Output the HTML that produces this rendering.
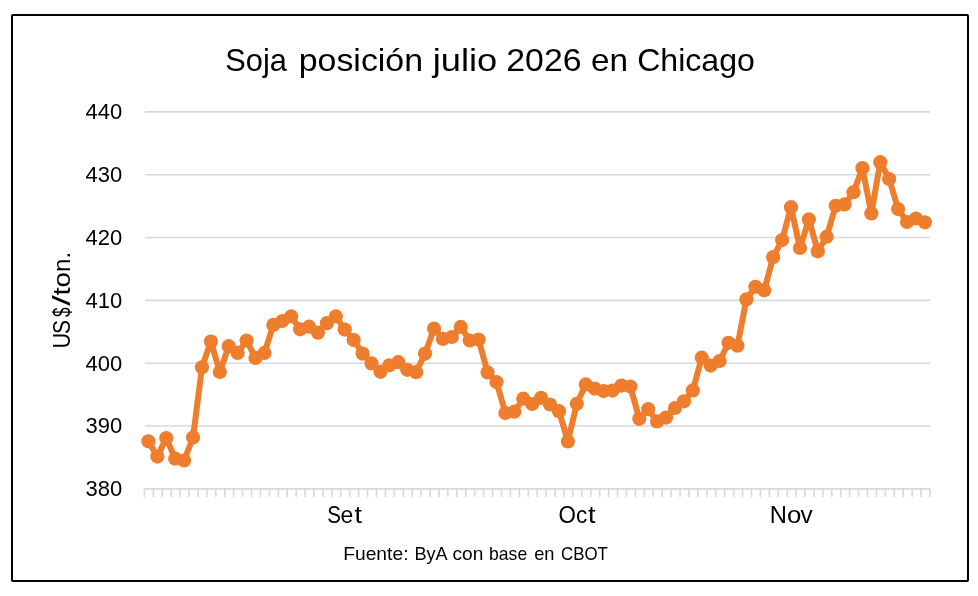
<!DOCTYPE html><html><head><meta charset="utf-8"><style>html,body{margin:0;padding:0;background:#fff;}svg{display:block;will-change:transform;}text{font-family:"Liberation Sans",sans-serif;fill:#000;}</style></head><body>
<svg width="978" height="596" viewBox="0 0 978 596">
<rect x="0" y="0" width="978" height="596" fill="#fff"/>
<rect x="12" y="15" width="956" height="566" fill="#fff" stroke="#000" stroke-width="2" rx="1"/>
<path d="M145 111.90H930M145 174.73H930M145 237.56H930M145 300.39H930M145 363.22H930M145 426.05H930" stroke="#d9d9d9" stroke-width="1.6" fill="none"/>
<path d="M144.4 488.88H930M144.40 488.88V496.88M153.33 488.88V496.88M162.25 488.88V496.88M171.18 488.88V496.88M180.11 488.88V496.88M189.04 488.88V496.88M197.96 488.88V496.88M206.89 488.88V496.88M215.82 488.88V496.88M224.75 488.88V496.88M233.67 488.88V496.88M242.60 488.88V496.88M251.53 488.88V496.88M260.45 488.88V496.88M269.38 488.88V496.88M278.31 488.88V496.88M287.24 488.88V496.88M296.16 488.88V496.88M305.09 488.88V496.88M314.02 488.88V496.88M322.95 488.88V496.88M331.87 488.88V496.88M340.80 488.88V496.88M349.73 488.88V496.88M358.65 488.88V496.88M367.58 488.88V496.88M376.51 488.88V496.88M385.44 488.88V496.88M394.36 488.88V496.88M403.29 488.88V496.88M412.22 488.88V496.88M421.15 488.88V496.88M430.07 488.88V496.88M439.00 488.88V496.88M447.93 488.88V496.88M456.85 488.88V496.88M465.78 488.88V496.88M474.71 488.88V496.88M483.64 488.88V496.88M492.56 488.88V496.88M501.49 488.88V496.88M510.42 488.88V496.88M519.35 488.88V496.88M528.27 488.88V496.88M537.20 488.88V496.88M546.13 488.88V496.88M555.05 488.88V496.88M563.98 488.88V496.88M572.91 488.88V496.88M581.84 488.88V496.88M590.76 488.88V496.88M599.69 488.88V496.88M608.62 488.88V496.88M617.55 488.88V496.88M626.47 488.88V496.88M635.40 488.88V496.88M644.33 488.88V496.88M653.25 488.88V496.88M662.18 488.88V496.88M671.11 488.88V496.88M680.04 488.88V496.88M688.96 488.88V496.88M697.89 488.88V496.88M706.82 488.88V496.88M715.75 488.88V496.88M724.67 488.88V496.88M733.60 488.88V496.88M742.53 488.88V496.88M751.45 488.88V496.88M760.38 488.88V496.88M769.31 488.88V496.88M778.24 488.88V496.88M787.16 488.88V496.88M796.09 488.88V496.88M805.02 488.88V496.88M813.95 488.88V496.88M822.87 488.88V496.88M831.80 488.88V496.88M840.73 488.88V496.88M849.65 488.88V496.88M858.58 488.88V496.88M867.51 488.88V496.88M876.44 488.88V496.88M885.36 488.88V496.88M894.29 488.88V496.88M903.22 488.88V496.88M912.15 488.88V496.88M921.07 488.88V496.88M930.00 488.88V496.88" stroke="#d9d9d9" stroke-width="1.6" fill="none"/>
<text x="122.2" y="119.3" font-size="22" text-anchor="end">440</text>
<text x="122.2" y="182.1" font-size="22" text-anchor="end">430</text>
<text x="122.2" y="245.0" font-size="22" text-anchor="end">420</text>
<text x="122.2" y="307.8" font-size="22" text-anchor="end">410</text>
<text x="122.2" y="370.6" font-size="22" text-anchor="end">400</text>
<text x="122.2" y="433.4" font-size="22" text-anchor="end">390</text>
<text x="122.2" y="496.3" font-size="22" text-anchor="end">380</text>
<text x="327.3" y="522.8" font-size="23" textLength="13.7" lengthAdjust="spacingAndGlyphs">S</text><text x="340.6" y="522.8" font-size="23" textLength="12.8" lengthAdjust="spacingAndGlyphs">e</text><text x="354.57" y="522.8" font-size="23" textLength="7.5" lengthAdjust="spacingAndGlyphs">t</text><text x="558.6" y="522.8" font-size="23" textLength="17.4" lengthAdjust="spacingAndGlyphs">O</text><text x="576.0" y="522.8" font-size="23" textLength="11.3" lengthAdjust="spacingAndGlyphs">c</text><text x="587.97" y="522.8" font-size="23" textLength="7.5" lengthAdjust="spacingAndGlyphs">t</text><text x="769.85" y="522.8" font-size="23" textLength="17.15" lengthAdjust="spacingAndGlyphs">N</text><text x="787.1" y="522.8" font-size="23" textLength="14.35" lengthAdjust="spacingAndGlyphs">o</text><text x="800.45" y="522.8" font-size="23" textLength="12.15" lengthAdjust="spacingAndGlyphs">v</text>
<text x="225.3" y="70.8" font-size="31.7" textLength="61.7" lengthAdjust="spacingAndGlyphs">Soja</text>
<text x="298.8" y="70.8" font-size="31.7" textLength="124.2" lengthAdjust="spacingAndGlyphs">posición</text>
<text x="432.8" y="70.8" font-size="31.7" textLength="64.5" lengthAdjust="spacingAndGlyphs">julio</text>
<text x="506.3" y="70.8" font-size="31.7" textLength="75.2" lengthAdjust="spacingAndGlyphs">2026</text>
<text x="591.0" y="70.8" font-size="31.7" textLength="37.0" lengthAdjust="spacingAndGlyphs">en</text>
<text x="637.2" y="70.8" font-size="31.7" textLength="117.7" lengthAdjust="spacingAndGlyphs">Chicago</text>
<g transform="translate(69.8,0) rotate(-90)"><text x="-348.45" y="0" font-size="23.5" textLength="15.65" lengthAdjust="spacingAndGlyphs">U</text><text x="-334.0" y="0" font-size="23.5" textLength="14.0" lengthAdjust="spacingAndGlyphs">S</text><text x="-317.05" y="0" font-size="23.5" textLength="9.6" lengthAdjust="spacingAndGlyphs">$</text><text x="-305.85" y="0" font-size="23.5" textLength="10.4" lengthAdjust="spacingAndGlyphs">/</text><text x="-295.45" y="0" font-size="23.5" textLength="8.2" lengthAdjust="spacingAndGlyphs">t</text><text x="-287.55" y="0" font-size="23.5" textLength="15.45" lengthAdjust="spacingAndGlyphs">o</text><text x="-271.95" y="0" font-size="23.5" textLength="13.35" lengthAdjust="spacingAndGlyphs">n</text><text x="-258.5" y="0" font-size="23.5" textLength="6.6" lengthAdjust="spacingAndGlyphs">.</text></g>
<text x="343.2" y="559.7" font-size="17.9" textLength="65.3" lengthAdjust="spacingAndGlyphs">Fuente:</text>
<text x="414.4" y="559.7" font-size="17.9" textLength="33.2" lengthAdjust="spacingAndGlyphs">ByA</text>
<text x="452.5" y="559.7" font-size="17.9" textLength="30.8" lengthAdjust="spacingAndGlyphs">con</text>
<text x="489.0" y="559.7" font-size="17.9" textLength="38.2" lengthAdjust="spacingAndGlyphs">base</text>
<text x="534.2" y="559.7" font-size="17.9" textLength="20.3" lengthAdjust="spacingAndGlyphs">en</text>
<text x="561.0" y="559.7" font-size="17.9" textLength="46.8" lengthAdjust="spacingAndGlyphs">CBOT</text>
<path d="M148.40 441.30 L157.33 456.60 L166.25 438.10 L175.18 458.70 L184.10 460.50 L193.03 437.50 L201.95 367.30 L210.88 341.50 L219.80 372.00 L228.73 346.20 L237.65 352.90 L246.58 340.50 L255.50 357.90 L264.43 352.90 L273.35 324.90 L282.27 321.10 L291.20 316.40 L300.12 329.30 L309.05 326.70 L317.98 332.70 L326.90 323.20 L335.83 316.40 L344.75 329.60 L353.68 340.00 L362.60 353.60 L371.53 363.40 L380.45 371.80 L389.38 365.30 L398.30 362.20 L407.23 369.80 L416.15 372.20 L425.08 353.60 L434.00 328.70 L442.93 338.90 L451.85 337.00 L460.77 326.90 L469.70 340.50 L478.62 339.60 L487.55 372.40 L496.48 382.10 L505.40 412.90 L514.33 411.70 L523.25 398.70 L532.18 404.00 L541.10 397.80 L550.03 404.50 L558.95 411.20 L567.88 441.40 L576.80 403.80 L585.73 384.40 L594.65 388.60 L603.58 391.10 L612.50 390.60 L621.43 385.60 L630.35 386.60 L639.28 418.80 L648.20 409.20 L657.12 421.40 L666.05 417.60 L674.98 408.00 L683.90 401.30 L692.83 390.40 L701.75 357.70 L710.68 365.60 L719.60 361.00 L728.52 342.80 L737.45 345.70 L746.38 299.40 L755.30 286.80 L764.23 290.20 L773.15 257.20 L782.08 240.10 L791.00 207.20 L799.93 248.00 L808.85 219.40 L817.77 251.30 L826.70 236.70 L835.62 205.80 L844.55 204.40 L853.48 192.20 L862.40 168.00 L871.33 213.40 L880.25 162.20 L889.18 179.00 L898.10 209.00 L907.03 222.00 L915.95 218.50 L924.88 222.30" stroke="#EE7D2E" stroke-width="6.0" fill="none" stroke-linejoin="round" stroke-linecap="round"/>
<g fill="#EE7D2E"><circle cx="148.40" cy="441.30" r="7.1"/><circle cx="157.33" cy="456.60" r="7.1"/><circle cx="166.25" cy="438.10" r="7.1"/><circle cx="175.18" cy="458.70" r="7.1"/><circle cx="184.10" cy="460.50" r="7.1"/><circle cx="193.03" cy="437.50" r="7.1"/><circle cx="201.95" cy="367.30" r="7.1"/><circle cx="210.88" cy="341.50" r="7.1"/><circle cx="219.80" cy="372.00" r="7.1"/><circle cx="228.73" cy="346.20" r="7.1"/><circle cx="237.65" cy="352.90" r="7.1"/><circle cx="246.58" cy="340.50" r="7.1"/><circle cx="255.50" cy="357.90" r="7.1"/><circle cx="264.43" cy="352.90" r="7.1"/><circle cx="273.35" cy="324.90" r="7.1"/><circle cx="282.27" cy="321.10" r="7.1"/><circle cx="291.20" cy="316.40" r="7.1"/><circle cx="300.12" cy="329.30" r="7.1"/><circle cx="309.05" cy="326.70" r="7.1"/><circle cx="317.98" cy="332.70" r="7.1"/><circle cx="326.90" cy="323.20" r="7.1"/><circle cx="335.83" cy="316.40" r="7.1"/><circle cx="344.75" cy="329.60" r="7.1"/><circle cx="353.68" cy="340.00" r="7.1"/><circle cx="362.60" cy="353.60" r="7.1"/><circle cx="371.53" cy="363.40" r="7.1"/><circle cx="380.45" cy="371.80" r="7.1"/><circle cx="389.38" cy="365.30" r="7.1"/><circle cx="398.30" cy="362.20" r="7.1"/><circle cx="407.23" cy="369.80" r="7.1"/><circle cx="416.15" cy="372.20" r="7.1"/><circle cx="425.08" cy="353.60" r="7.1"/><circle cx="434.00" cy="328.70" r="7.1"/><circle cx="442.93" cy="338.90" r="7.1"/><circle cx="451.85" cy="337.00" r="7.1"/><circle cx="460.77" cy="326.90" r="7.1"/><circle cx="469.70" cy="340.50" r="7.1"/><circle cx="478.62" cy="339.60" r="7.1"/><circle cx="487.55" cy="372.40" r="7.1"/><circle cx="496.48" cy="382.10" r="7.1"/><circle cx="505.40" cy="412.90" r="7.1"/><circle cx="514.33" cy="411.70" r="7.1"/><circle cx="523.25" cy="398.70" r="7.1"/><circle cx="532.18" cy="404.00" r="7.1"/><circle cx="541.10" cy="397.80" r="7.1"/><circle cx="550.03" cy="404.50" r="7.1"/><circle cx="558.95" cy="411.20" r="7.1"/><circle cx="567.88" cy="441.40" r="7.1"/><circle cx="576.80" cy="403.80" r="7.1"/><circle cx="585.73" cy="384.40" r="7.1"/><circle cx="594.65" cy="388.60" r="7.1"/><circle cx="603.58" cy="391.10" r="7.1"/><circle cx="612.50" cy="390.60" r="7.1"/><circle cx="621.43" cy="385.60" r="7.1"/><circle cx="630.35" cy="386.60" r="7.1"/><circle cx="639.28" cy="418.80" r="7.1"/><circle cx="648.20" cy="409.20" r="7.1"/><circle cx="657.12" cy="421.40" r="7.1"/><circle cx="666.05" cy="417.60" r="7.1"/><circle cx="674.98" cy="408.00" r="7.1"/><circle cx="683.90" cy="401.30" r="7.1"/><circle cx="692.83" cy="390.40" r="7.1"/><circle cx="701.75" cy="357.70" r="7.1"/><circle cx="710.68" cy="365.60" r="7.1"/><circle cx="719.60" cy="361.00" r="7.1"/><circle cx="728.52" cy="342.80" r="7.1"/><circle cx="737.45" cy="345.70" r="7.1"/><circle cx="746.38" cy="299.40" r="7.1"/><circle cx="755.30" cy="286.80" r="7.1"/><circle cx="764.23" cy="290.20" r="7.1"/><circle cx="773.15" cy="257.20" r="7.1"/><circle cx="782.08" cy="240.10" r="7.1"/><circle cx="791.00" cy="207.20" r="7.1"/><circle cx="799.93" cy="248.00" r="7.1"/><circle cx="808.85" cy="219.40" r="7.1"/><circle cx="817.77" cy="251.30" r="7.1"/><circle cx="826.70" cy="236.70" r="7.1"/><circle cx="835.62" cy="205.80" r="7.1"/><circle cx="844.55" cy="204.40" r="7.1"/><circle cx="853.48" cy="192.20" r="7.1"/><circle cx="862.40" cy="168.00" r="7.1"/><circle cx="871.33" cy="213.40" r="7.1"/><circle cx="880.25" cy="162.20" r="7.1"/><circle cx="889.18" cy="179.00" r="7.1"/><circle cx="898.10" cy="209.00" r="7.1"/><circle cx="907.03" cy="222.00" r="7.1"/><circle cx="915.95" cy="218.50" r="7.1"/><circle cx="924.88" cy="222.30" r="7.1"/></g>
</svg></body></html>
